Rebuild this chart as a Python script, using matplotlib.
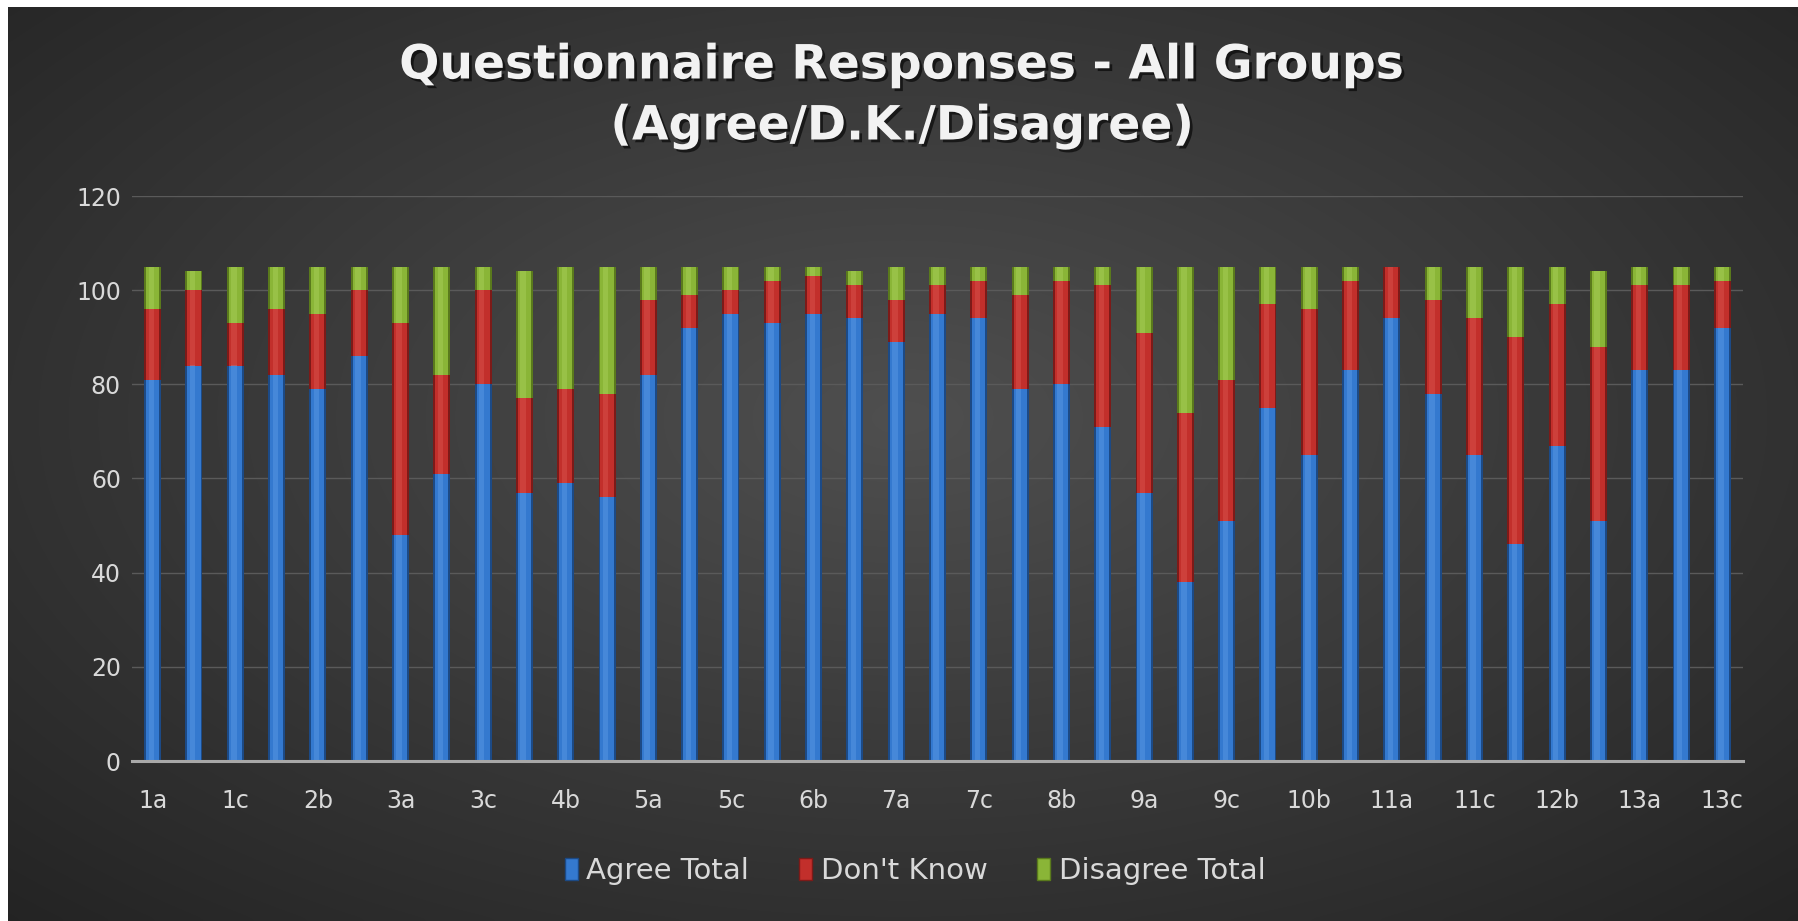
import numpy as np
import matplotlib
matplotlib.use("Agg")
import matplotlib.pyplot as plt
import matplotlib.patheffects as pe
from matplotlib.patches import Patch

plt.rcParams['font.family'] = ['DejaVu Sans']

# question ids, one bar each
questions = ["1a", "1b", "1c", "2a", "2b", "2c", "3a", "3b", "3c",
             "4a", "4b", "4c", "5a", "5b", "5c", "6a", "6b", "6c",
             "7a", "7b", "7c", "8a", "8b", "8c", "9a", "9b", "9c",
             "10a", "10b", "10c", "11a", "11b", "11c", "12a", "12b", "12c",
             "13a", "13b", "13c"]

agree = [81, 84, 84, 82, 79, 86, 48, 61, 80,
         57, 59, 56, 82, 92, 95, 93, 95, 94,
         89, 95, 94, 79, 80, 71, 57, 38, 51,
         75, 65, 83, 94, 78, 65, 46, 67, 51,
         83, 83, 92]

dont_know = [15, 16, 9, 14, 16, 14, 45, 21, 20,
             20, 20, 22, 16, 7, 5, 9, 8, 7,
             9, 6, 8, 20, 22, 30, 34, 36, 30,
             22, 31, 19, 11, 20, 29, 44, 30, 37,
             18, 18, 10]

disagree = [9, 4, 12, 9, 10, 5, 12, 23, 5,
            27, 26, 27, 7, 6, 5, 3, 2, 3,
            7, 4, 3, 6, 3, 4, 14, 31, 24,
            8, 9, 3, 0, 7, 11, 15, 8, 16,
            4, 4, 3]

series_names = ["Agree Total", "Don't Know", "Disagree Total"]
# (edge, body, highlight) shades for the cylinder look
shades = [("#1c4a86", "#3479cf", "#6aa5ec"),
          ("#7d1a18", "#c22f2b", "#e4605a"),
          ("#5a7a1c", "#8ab537", "#b5d866")]

fig = plt.figure(figsize=(17.98, 9.21), dpi=100)
fig.patch.set_facecolor("white")

# radial grey background
bg = fig.add_axes([8 / 1798, 0, 1 - 8 / 1798, 1 - 7 / 921])
gx, gy = np.meshgrid(np.linspace(-1, 1, 400), np.linspace(-1, 1, 200))
r = np.sqrt((gx * 0.9) ** 2 + ((gy + 0.1) * 0.85) ** 2)
shade = 0.31 - 0.17 * np.clip(r, 0, 1.3) / 1.3
bg.imshow(np.dstack([shade, shade, shade]), aspect="auto", extent=[0, 1, 0, 1],
          interpolation="bicubic")
bg.set_axis_off()

ax = fig.add_axes([132 / 1798, 1 - 761 / 921, (1743 - 132) / 1798, (761 - 196) / 921])
ax.patch.set_alpha(0)

x = np.arange(len(questions))
bottom = np.zeros(len(questions))
w = 0.41
for vals, (dark, body, light) in zip([agree, dont_know, disagree], shades):
    vals = np.array(vals, dtype=float)
    ax.bar(x, vals, w, bottom=bottom, color=dark, zorder=3)
    ax.bar(x, vals, w * 0.78, bottom=bottom, color=body, zorder=4)
    ax.bar(x - w * 0.08, vals, w * 0.32, bottom=bottom, color=light, alpha=0.35,
           zorder=5, linewidth=0)
    bottom += vals

ax.set_xlim(-0.5, len(questions) - 0.5)
ax.set_ylim(0, 120)
ax.set_yticks(range(0, 121, 20))
ax.set_xticks(x[::2])
ax.set_xticklabels(questions[::2])
ax.grid(axis="y", color="#5a5a5a", linewidth=1, zorder=0)
for s in ["top", "right", "left"]:
    ax.spines[s].set_visible(False)
ax.spines["bottom"].set_color("#a8a8a8")
ax.spines["bottom"].set_linewidth(2.2)
ax.spines["bottom"].set_zorder(6)
ax.tick_params(axis="both", length=0, colors="#d9d9d9", labelsize=17)
ax.tick_params(axis="x", pad=20)
ax.tick_params(axis="y", pad=8)

shadow = [pe.withSimplePatchShadow(offset=(2, -2), shadow_rgbFace="black", alpha=0.6)]
fig.text(0.502, 1 - 66 / 921, "Questionnaire Responses - All Groups", ha="center",
         va="center", fontsize=34, fontweight="bold", color="#f2f2f2", path_effects=shadow)
fig.text(0.502, 1 - 127 / 921, "(Agree/D.K./Disagree)", ha="center",
         va="center", fontsize=34, fontweight="bold", color="#f2f2f2", path_effects=shadow)

handles = [Patch(facecolor=s[1], edgecolor=s[0]) for s in shades]
leg = fig.legend(handles, series_names, loc="center", bbox_to_anchor=(0.509, 1 - 871 / 921),
                 ncol=3, frameon=False, fontsize=21, handlelength=0.45, handleheight=0.75,
                 handletextpad=0.3, columnspacing=1.7)
for t in leg.get_texts():
    t.set_color("#d9d9d9")

fig.savefig("out.png", dpi=100, facecolor=fig.get_facecolor())
